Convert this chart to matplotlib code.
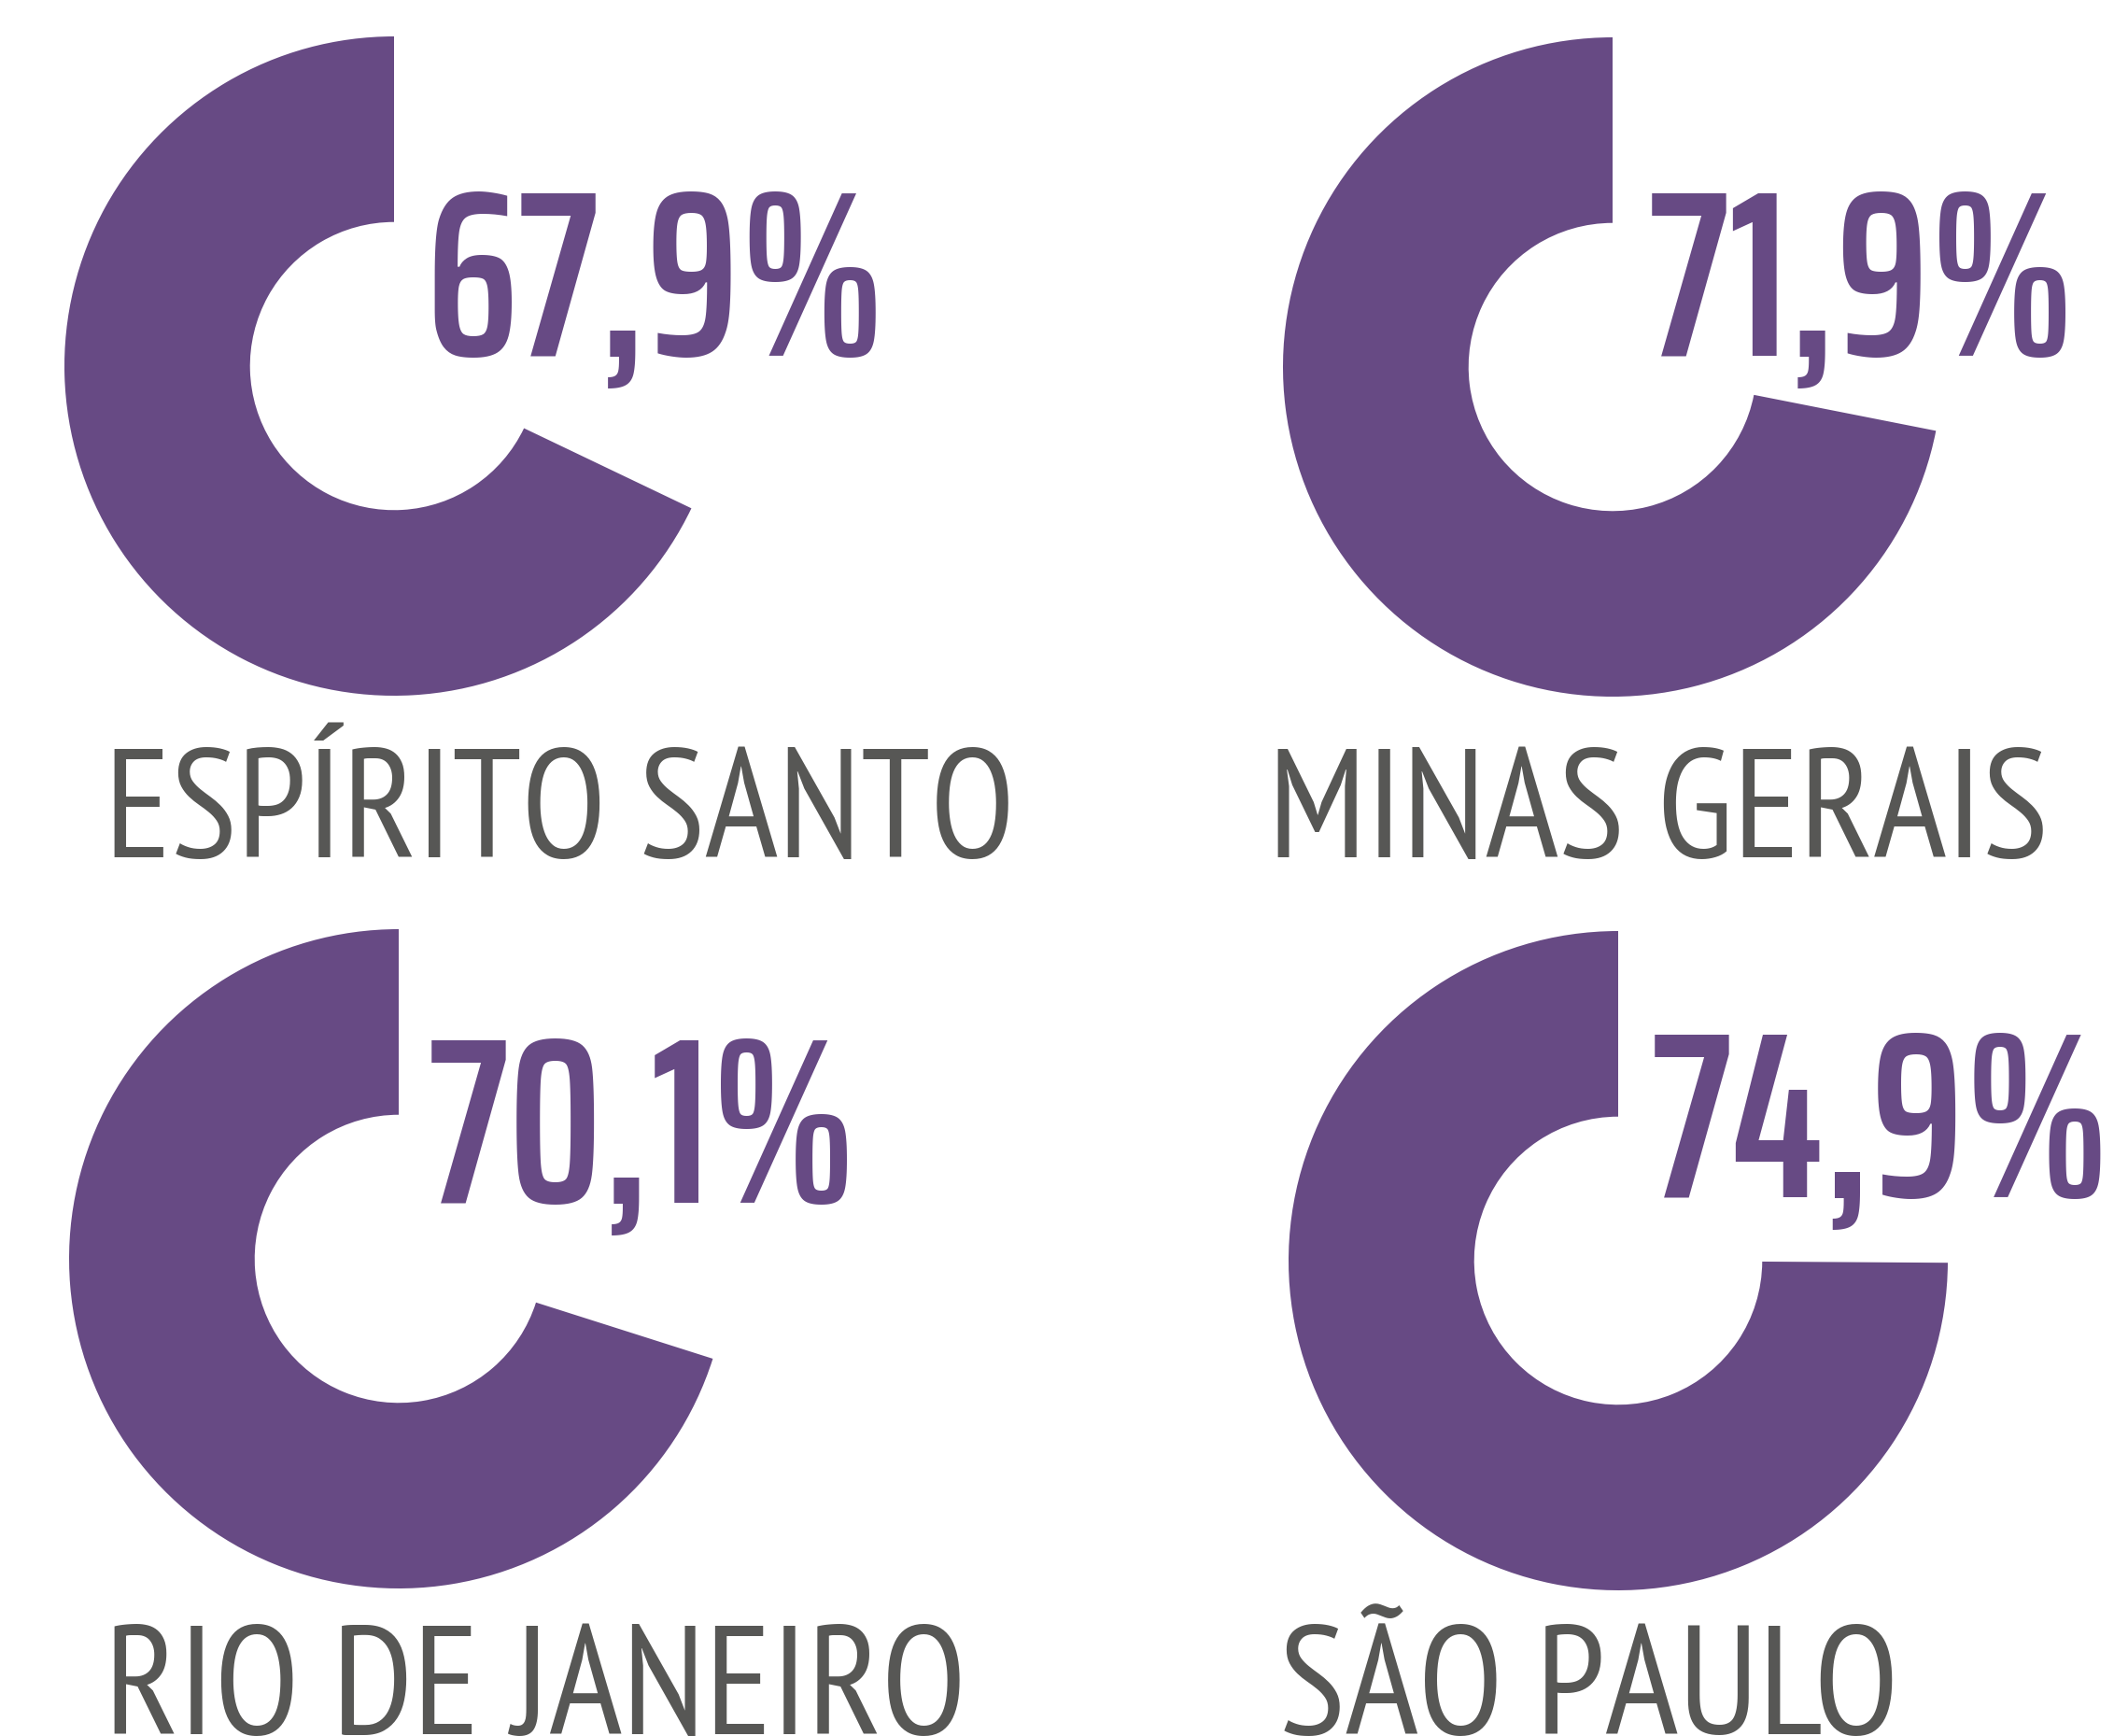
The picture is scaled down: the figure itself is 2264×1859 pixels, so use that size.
import matplotlib
matplotlib.use("Agg")
import matplotlib.pyplot as plt

# data
states = ["ESPÍRITO SANTO", "MINAS GERAIS", "RIO DE JANEIRO", "SÃO PAULO"]
pct = [67.9, 71.9, 70.1, 74.9]
pct_labels = ["67,9%", "71,9%", "70,1%", "74,9%"]

purple = "#674a84"
gray = "#575755"
W, H = 2264, 1859

fig = plt.figure(figsize=(W / 100, H / 100), dpi=100)

# donut centres / text anchors in pixels (top-left origin)
centres = [(422, 392), (1727, 393), (427, 1348), (1733, 1350)]
r_out = 353
hole = 0.437
pct_pos = [(455, 381), (1765, 381), (458, 1288), (1768, 1282)]
lab_pos = [(112, 918), (1358, 918), (112, 1857), (1370, 1857)]

for i in range(4):
    cx, cy = centres[i]
    ax = fig.add_axes([(cx - r_out) / W, (H - cy - r_out) / H, 2 * r_out / W, 2 * r_out / H])
    ax.pie([pct[i], 100 - pct[i]], colors=[purple, "none"], startangle=90,
           counterclock=True, radius=1,
           wedgeprops=dict(width=1 - hole, linewidth=0))
    ax.set_xlim(-1, 1)
    ax.set_ylim(-1, 1)
    ax.set_axis_off()

    px, py = pct_pos[i]
    fig.text(px / W, 1 - py / H, pct_labels[i], color=purple, fontsize=182,
             family=["Saira ExtraCondensed", "DejaVu Sans"], fontweight=600,
             ha="left", va="baseline")
    lx, ly = lab_pos[i]
    fig.text(lx / W, 1 - ly / H, states[i], color=gray, fontsize=119,
             family=["PT Sans Narrow", "DejaVu Sans"],
             ha="left", va="baseline")

fig.savefig("out.png", dpi=100)
